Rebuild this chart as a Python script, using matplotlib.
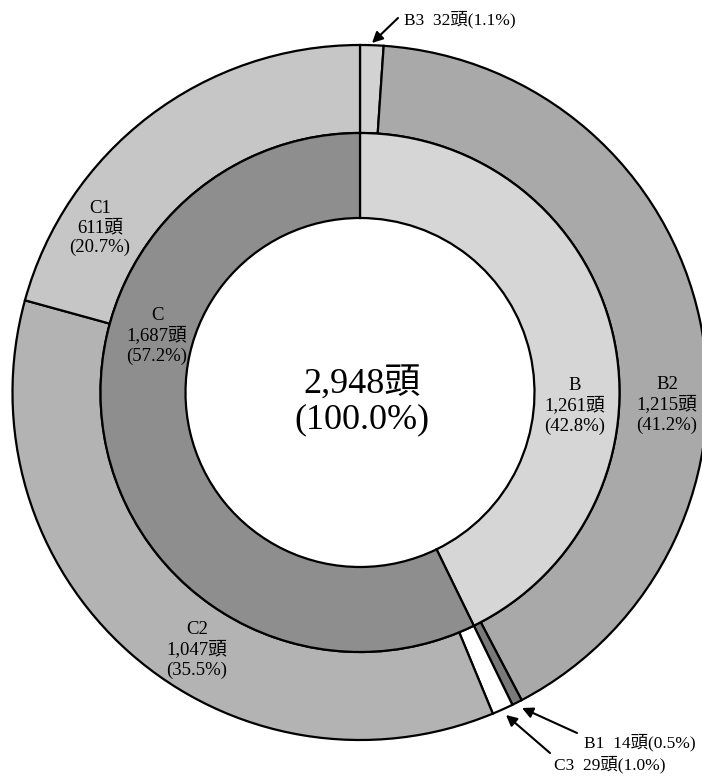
import matplotlib
matplotlib.use("Agg")
import matplotlib.pyplot as plt

plt.rcParams['font.family'] = ['Liberation Serif', 'Noto Sans CJK JP', 'DejaVu Sans']

W, H = 702, 777

# data
total = 2948
inner_labels = ["B", "C"]
inner_values = [1261, 1687]
inner_pct = [42.8, 57.2]
outer_labels = ["B3", "B2", "B1", "C3", "C2", "C1"]
outer_values = [32, 1215, 14, 29, 1047, 611]
outer_pct = [1.1, 41.2, 0.5, 1.0, 35.5, 20.7]

inner_colors = ["#d6d6d6", "#8e8e8e"]
outer_colors = ["#d2d2d2", "#a9a9a9", "#7a7a7a", "#ffffff", "#b3b3b3", "#c6c6c6"]

# geometry in pixels (y measured from top)
cx, cy = 360, 392.5
r_out, r_mid, r_in = 347.5, 259.5, 174.5


def fy(y):
    return H - y


fig = plt.figure(figsize=(W / 100, H / 100), dpi=100)
ax = fig.add_axes([0, 0, 1, 1])

wp = dict(edgecolor="black", linewidth=1.6)
ax.pie(outer_values, radius=r_out, center=(cx, fy(cy)), startangle=90,
       counterclock=False, colors=outer_colors,
       wedgeprops=dict(width=r_out - r_mid, **wp))
ax.pie(inner_values, radius=r_mid, center=(cx, fy(cy)), startangle=90,
       counterclock=False, colors=inner_colors,
       wedgeprops=dict(width=r_mid - r_in, **wp))

ax.set_xlim(0, W)
ax.set_ylim(0, H)
ax.set_aspect("equal")
ax.axis("off")

# center text
ax.text(cx + 2, fy(402), f"{total:,}頭\n(100.0%)", ha="center", va="center",
        fontsize=26, linespacing=1.1)

# in-ring labels
lab_pos = {"C1": (100, 228), "B2": (667, 405), "C2": (197, 650),
           "C": (157, 336), "B": (575, 406)}
fs = 13.5
for lab, v, p in zip(outer_labels + inner_labels, outer_values + inner_values,
                     outer_pct + inner_pct):
    if lab in lab_pos:
        x, y = lab_pos[lab]
        ax.text(x, fy(y), f"{lab}\n{v:,}頭\n({p}%)", ha="center", va="center",
                fontsize=fs, linespacing=1.2)

# callouts for the thin slices
callouts = {"B3": ((372, 43), (398, 18), (404, 20)),
            "B1": ((522, 708), (577, 733), (584, 743)),
            "C3": ((506, 715), (550, 753), (554, 765))}
for lab, v, p in zip(outer_labels, outer_values, outer_pct):
    if lab in callouts:
        tip, tail, tpos = callouts[lab]
        ax.annotate("", xy=(tip[0], fy(tip[1])), xytext=(tail[0], fy(tail[1])),
                    arrowprops=dict(arrowstyle="-|>", color="black", lw=1.5,
                                    mutation_scale=16, shrinkA=0, shrinkB=0))
        ax.text(tpos[0], fy(tpos[1]), f"{lab}  {v}頭({p}%)", ha="left",
                va="center", fontsize=12.5)

fig.savefig("out.png", dpi=100)
